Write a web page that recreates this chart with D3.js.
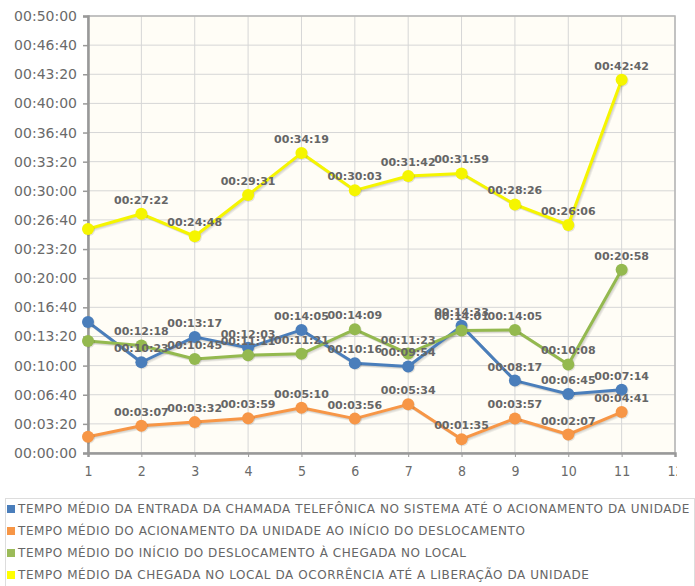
<!DOCTYPE html>
<html>
<head>
<meta charset="utf-8">
<script src="https://cdn.jsdelivr.net/npm/d3@7"></script>
<style>
  body { margin: 0; background: #fff; }
  svg { display: block; }
</style>
</head>
<body>
<script>
var width = 695, height = 586;

// categorias (x) e rótulos do eixo
var categories = [1, 2, 3, 4, 5, 6, 7, 8, 9, 10, 11];
var xTicks = [1, 2, 3, 4, 5, 6, 7, 8, 9, 10, 11, 12];
var yTicks = d3.range(0, 3001, 200); // segundos

// valores (hh:mm:ss)
var entradaAcionamento = ["00:15:00", "00:10:23", "00:13:17", "00:12:03", "00:14:05", "00:10:16", "00:09:54", "00:14:33", "00:08:17", "00:06:45", "00:07:14"];
var acionamentoDeslocamento = ["00:01:52", "00:03:07", "00:03:32", "00:03:59", "00:05:10", "00:03:56", "00:05:34", "00:01:35", "00:03:57", "00:02:07", "00:04:41"];
var deslocamentoChegada = ["00:12:49", "00:12:18", "00:10:45", "00:11:11", "00:11:21", "00:14:09", "00:11:23", "00:14:01", "00:14:05", "00:10:08", "00:20:58"];
var chegadaLiberacao = ["00:25:38", "00:27:22", "00:24:48", "00:29:31", "00:34:19", "00:30:03", "00:31:42", "00:31:59", "00:28:26", "00:26:06", "00:42:42"];

var seriesNames = [
  "TEMPO MÉDIO DA ENTRADA DA CHAMADA TELEFÔNICA NO SISTEMA ATÉ O ACIONAMENTO DA UNIDADE",
  "TEMPO MÉDIO DO ACIONAMENTO DA UNIDADE AO INÍCIO DO DESLOCAMENTO",
  "TEMPO MÉDIO DO INÍCIO DO DESLOCAMENTO À CHEGADA NO LOCAL",
  "TEMPO MÉDIO DA CHEGADA NO LOCAL DA OCORRÊNCIA ATÉ A LIBERAÇÃO DA UNIDADE"
];
var seriesColors = ["#4a7ebb", "#f79646", "#94b94f", "#f5f500"];
var legendColors = ["#4a7ebb", "#f79646", "#9bbb59", "#ffff00"];

function toSec(s) {
  var p = s.split(":").map(Number);
  return p[0] * 3600 + p[1] * 60 + p[2];
}
function fmt(sec) {
  var h = Math.floor(sec / 3600), m = Math.floor((sec % 3600) / 60), s = sec % 60;
  return [h, m, s].map(v => String(v).padStart(2, "0")).join(":");
}

var series = [entradaAcionamento, acionamentoDeslocamento, deslocamentoChegada, chegadaLiberacao]
  .map((vals, i) => ({
    name: seriesNames[i],
    color: seriesColors[i],
    values: vals.map((v, j) => ({x: categories[j], label: v, y: toSec(v)}))
  }));

var plot = {left: 88, top: 16, right: 675, bottom: 453};

var x = d3.scaleLinear().domain([1, 12]).range([plot.left, plot.right]);
var y = d3.scaleLinear().domain([0, 3000]).range([plot.bottom, plot.top]);

var svg = d3.select("body").append("svg")
    .attr("width", width)
    .attr("height", height);

svg.append("defs").append("clipPath")
    .attr("id", "chartclip")
  .append("rect")
    .attr("x", 0).attr("y", 0).attr("width", 677).attr("height", 495);

var chart = svg.append("g").attr("clip-path", "url(#chartclip)");

// fundo
chart.append("rect")
    .attr("x", plot.left).attr("y", plot.top)
    .attr("width", plot.right - plot.left).attr("height", plot.bottom - plot.top)
    .attr("fill", "#fffdf6");

// grade
chart.append("g")
    .attr("stroke", "#d6d6d6")
    .attr("stroke-width", 1)
  .selectAll("line.h")
  .data(yTicks)
  .join("line")
    .attr("x1", plot.left).attr("x2", plot.right)
    .attr("y1", d => y(d)).attr("y2", d => y(d));

chart.append("g")
    .attr("stroke", "#d6d6d6")
    .attr("stroke-width", 1)
  .selectAll("line.v")
  .data(xTicks)
  .join("line")
    .attr("x1", d => x(d)).attr("x2", d => x(d))
    .attr("y1", plot.top).attr("y2", plot.bottom);

// moldura
chart.append("rect")
    .attr("x", plot.left).attr("y", plot.top)
    .attr("width", plot.right - plot.left).attr("height", plot.bottom - plot.top)
    .attr("fill", "none")
    .attr("stroke", "#b5b5b5")
    .attr("stroke-width", 1.5);

// eixos
var yAxis = d3.axisLeft(y).tickValues(yTicks).tickFormat(fmt).tickSize(5).tickPadding(6);
var gy = chart.append("g")
    .attr("transform", `translate(${plot.left},0)`)
    .call(yAxis);
gy.select(".domain").attr("stroke", "#999").attr("stroke-width", 2.5);
gy.selectAll(".tick line").attr("stroke", "#999").attr("stroke-width", 1.5);
gy.selectAll(".tick text")
    .attr("fill", "#6a6a6a")
    .style("font-family", "DejaVu Sans")
    .style("font-size", "14px");

var xAxis = d3.axisBottom(x).tickValues(xTicks).tickFormat(d3.format("d")).tickSize(4).tickPadding(9);
var gx = chart.append("g")
    .attr("transform", `translate(0,${plot.bottom})`)
    .call(xAxis);
gx.select(".domain").attr("stroke", "#999").attr("stroke-width", 2.5);
gx.selectAll(".tick line").attr("stroke", "#999").attr("stroke-width", 1);
gx.selectAll(".tick text")
    .attr("fill", "#6a6a6a")
    .style("font-family", "DejaVu Sans Condensed")
    .style("font-size", "14px");

var line = d3.line().x(d => x(d.x)).y(d => y(d.y));

// sombras
series.forEach(s => {
  [1, 2, 3].forEach(k => {
    chart.append("path")
        .datum(s.values)
        .attr("d", line)
        .attr("fill", "none")
        .attr("stroke", "#000")
        .attr("stroke-opacity", 0.06)
        .attr("stroke-width", 3)
        .attr("stroke-linejoin", "round")
        .attr("transform", `translate(${k * 0.7},${k * 0.7})`);
  });
});

// linhas e pontos
series.forEach(s => {
  chart.append("path")
      .datum(s.values)
      .attr("d", line)
      .attr("fill", "none")
      .attr("stroke", s.color)
      .attr("stroke-width", 3)
      .attr("stroke-linejoin", "round");

  chart.append("g")
    .selectAll("circle.sh")
    .data(s.values)
    .join("circle")
      .attr("cx", d => x(d.x) + 1)
      .attr("cy", d => y(d.y) + 1)
      .attr("r", 6)
      .attr("fill", "#000")
      .attr("fill-opacity", 0.1);

  chart.append("g")
    .selectAll("circle.pt")
    .data(s.values)
    .join("circle")
      .attr("cx", d => x(d.x))
      .attr("cy", d => y(d.y))
      .attr("r", 6)
      .attr("fill", s.color);
});

// rótulos dos pontos (o primeiro fica fora da grade)
series.forEach(s => {
  chart.append("g")
    .selectAll("text")
    .data(s.values.slice(1))
    .join("text")
      .attr("x", d => x(d.x))
      .attr("y", d => y(d.y) - 10)
      .attr("text-anchor", "middle")
      .attr("fill", "#666")
      .style("font-family", "DejaVu Sans")
      .style("font-weight", "bold")
      .style("font-size", "11px")
      .text(d => d.label);
});

// legenda
var legend = svg.append("g");
legend.append("rect")
    .attr("x", 5.5).attr("y", 498.5)
    .attr("width", 689).attr("height", 90)
    .attr("fill", "#fff")
    .attr("stroke", "#ddd");

var item = legend.selectAll("g.item")
  .data(series)
  .join("g")
    .attr("transform", (d, i) => `translate(7,${509 + i * 22})`);

item.append("rect")
    .attr("x", 0).attr("y", -4)
    .attr("width", 8).attr("height", 8)
    .attr("fill", (d, i) => legendColors[i]);

var labels = item.append("text")
    .attr("x", 11)
    .attr("dy", "0.35em")
    .attr("fill", "#666")
    .style("font-family", "DejaVu Sans")
    .style("font-size", "12px")
    .text(d => d.name);

// espaçamento para a primeira linha chegar até ~690px
var firstLen = labels.node().getComputedTextLength();
var spacing = (672 - firstLen) / seriesNames[0].length;
labels.style("letter-spacing", spacing + "px");
</script>
</body>
</html>
